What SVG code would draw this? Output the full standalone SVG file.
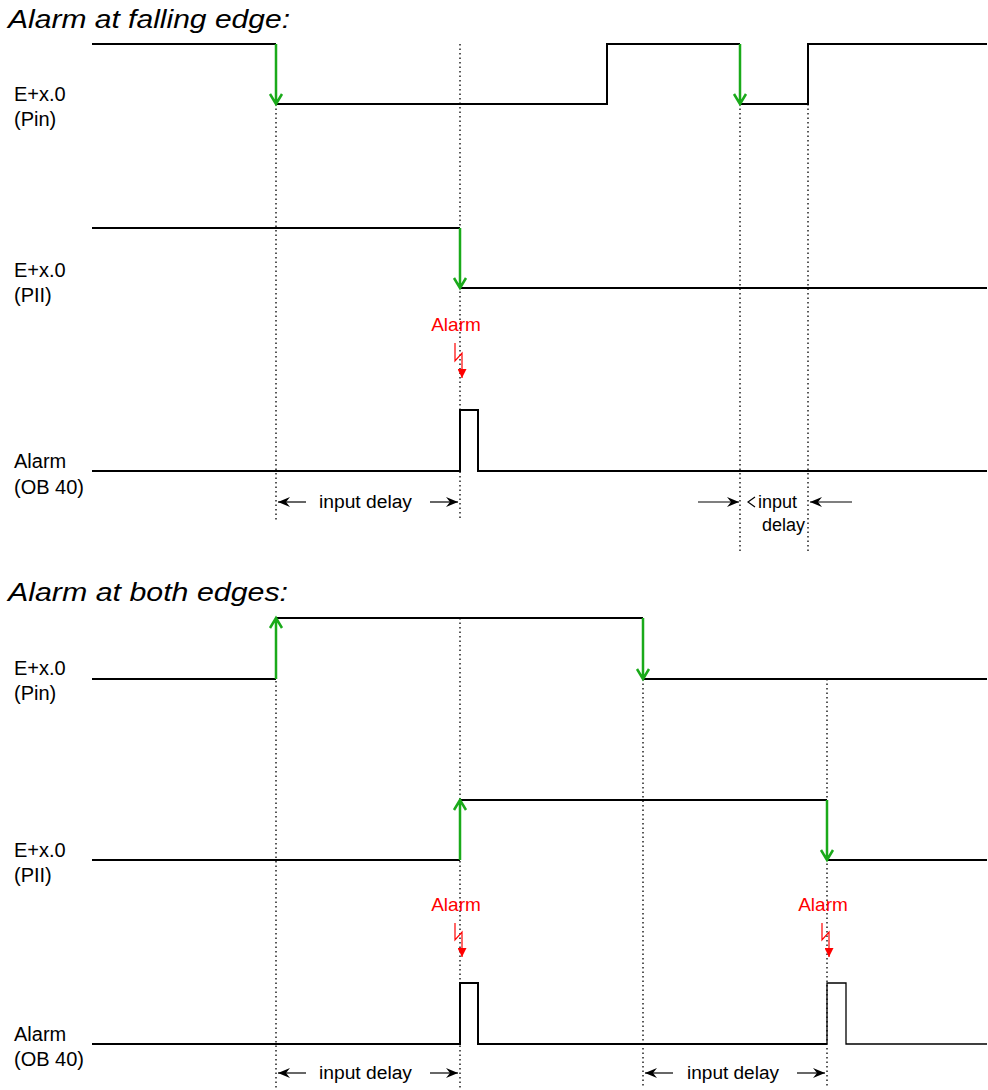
<svg xmlns="http://www.w3.org/2000/svg" width="988" height="1090" viewBox="0 0 988 1090">
<defs>
<style>
.t{font-family:"Liberation Sans",Arial,sans-serif;fill:#000}
.title{font-size:26px;font-style:italic}
.lbl{font-size:20px}
.dl{font-size:18px}
.al{font-size:19px;fill:#ff0000;text-anchor:middle}
.sig{fill:none;stroke:#000;stroke-width:2;stroke-linejoin:miter}
.thin{fill:none;stroke:#000;stroke-width:1.3}
.edge{fill:none;stroke:#1aaa1a;stroke-width:2.5;stroke-linejoin:miter}
.dot{stroke:#222;stroke-width:1.5;stroke-dasharray:1.5 3}
.dim{stroke:#000;stroke-width:1.2;marker-end:url(#ah)}
.bolt{fill:none;stroke:#ff0000;stroke-width:1.2;stroke-linejoin:miter}
</style>
<marker id="ah" viewBox="0 0 12 10" refX="12" refY="5" markerWidth="12" markerHeight="10" markerUnits="userSpaceOnUse" orient="auto">
<path d="M0,0 L12,5 L0,10 L4,5 z" fill="#000"/>
</marker>
<marker id="rh" viewBox="0 0 10 10" refX="10" refY="5" markerWidth="9" markerHeight="9" markerUnits="userSpaceOnUse" orient="auto">
<path d="M0,0 L10,5 L0,10 z" fill="#ff0000"/>
</marker>
</defs>

<g id="section-falling">
<text class="t title" x="8" y="28" textLength="282" lengthAdjust="spacingAndGlyphs">Alarm at falling edge:</text>
<g id="label-pin-1"><text class="t lbl" x="14" y="101">E+x.0</text><text class="t lbl" x="14" y="126">(Pin)</text></g>
<g id="label-pii-1"><text class="t lbl" x="14" y="277">E+x.0</text><text class="t lbl" x="14" y="302">(PII)</text></g>
<g id="label-ob-1"><text class="t lbl" x="14" y="468">Alarm</text><text class="t lbl" x="14" y="494">(OB 40)</text></g>
</g>

<g id="section-both">
<text class="t title" x="8" y="601" textLength="280" lengthAdjust="spacingAndGlyphs">Alarm at both edges:</text>
<g id="label-pin-2"><text class="t lbl" x="14" y="675">E+x.0</text><text class="t lbl" x="14" y="700">(Pin)</text></g>
<g id="label-pii-2"><text class="t lbl" x="14" y="857">E+x.0</text><text class="t lbl" x="14" y="882">(PII)</text></g>
<g id="label-ob-2"><text class="t lbl" x="14" y="1041">Alarm</text><text class="t lbl" x="14" y="1066">(OB 40)</text></g>
</g>

<g id="guides">
<line class="dot" x1="276" y1="104" x2="276" y2="520"/>
<line class="dot" x1="460" y1="44" x2="460" y2="520"/>
<line class="dot" x1="740" y1="104" x2="740" y2="553"/>
<line class="dot" x1="808" y1="104" x2="808" y2="553"/>
<line class="dot" x1="276" y1="618" x2="276" y2="1088"/>
<line class="dot" x1="460" y1="618" x2="460" y2="1088"/>
<line class="dot" x1="643" y1="679" x2="643" y2="1088"/>
<line class="dot" x1="827" y1="679" x2="827" y2="1088"/>
</g>

<g id="signals">
<path class="sig" d="M92,44 H276 M276,104 H607 V44 H740 M740,104 H808 V44 H987"/>
<path class="sig" d="M92,228 H460 M460,288 H987"/>
<path class="sig" d="M92,471 H460 V410 H478 V471 H987"/>
<path class="sig" d="M92,679 H276 M276,618 H643 M643,679 H987"/>
<path class="sig" d="M92,860 H460 M460,800 H827 M827,860 H987"/>
<path class="sig" d="M92,1044 H460 V983 H478 V1044 H827"/>
<path class="thin" d="M827,1044 V983 H846 V1044 H987"/>
</g>

<g id="edges">
<path class="edge" d="M276,44 V103 M270,94 L276,104 L282,94"/>
<path class="edge" d="M740,44 V103 M734,94 L740,104 L746,94"/>
<path class="edge" d="M460,228 V287 M454,278 L460,288 L466,278"/>
<path class="edge" d="M276,679 V619 M270,628 L276,618 L282,628"/>
<path class="edge" d="M643,618 V678 M637,669 L643,679 L649,669"/>
<path class="edge" d="M460,860 V801 M454,810 L460,800 L466,810"/>
<path class="edge" d="M827,800 V859 M821,850 L827,860 L833,850"/>
</g>

<g id="alarms">
<g id="alarm-1">
<text class="t al" x="456" y="331">Alarm</text>
<path class="bolt" d="M455,343 V361 L462,353 V378" marker-end="url(#rh)"/>
</g>
<g id="alarm-2">
<text class="t al" x="456" y="911">Alarm</text>
<path class="bolt" d="M455,923 V940 L462,932 V957" marker-end="url(#rh)"/>
</g>
<g id="alarm-3">
<text class="t al" x="823" y="911">Alarm</text>
<path class="bolt" d="M822,923 V940 L829,932 V957" marker-end="url(#rh)"/>
</g>
</g>

<g id="delays">
<g id="delay-1">
<line class="dim" x1="306" y1="502" x2="278" y2="502"/>
<text class="t dl" x="319" y="508" textLength="93" lengthAdjust="spacingAndGlyphs">input delay</text>
<line class="dim" x1="430" y1="502" x2="458" y2="502"/>
</g>
<g id="delay-2">
<line class="dim" x1="698" y1="502" x2="739" y2="502"/>
<path d="M755,497 L748,502 L755,507" fill="none" stroke="#000" stroke-width="1.2"/>
<text class="t dl" x="758" y="508">input</text>
<text class="t dl" x="762" y="531">delay</text>
<line class="dim" x1="852" y1="502" x2="810" y2="502"/>
</g>
<g id="delay-3">
<line class="dim" x1="306" y1="1073" x2="278" y2="1073"/>
<text class="t dl" x="319" y="1079" textLength="93" lengthAdjust="spacingAndGlyphs">input delay</text>
<line class="dim" x1="430" y1="1073" x2="458" y2="1073"/>
</g>
<g id="delay-4">
<line class="dim" x1="673" y1="1073" x2="645" y2="1073"/>
<text class="t dl" x="687" y="1079" textLength="92" lengthAdjust="spacingAndGlyphs">input delay</text>
<line class="dim" x1="797" y1="1073" x2="825" y2="1073"/>
</g>
</g>
</svg>
